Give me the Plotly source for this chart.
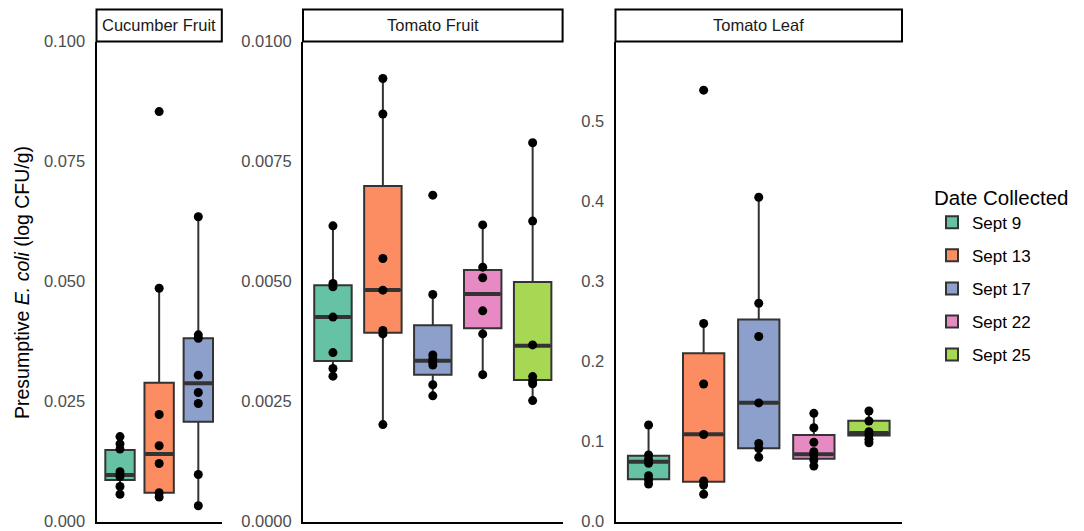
import plotly.graph_objects as go

# ---------------- data ----------------
DATES = ["Sept 9", "Sept 13", "Sept 17", "Sept 22", "Sept 25"]
COLORS = ["#66C2A5", "#FC8D62", "#8DA0CB", "#E78AC3", "#A6D854"]
PANELS = ["Cucumber Fruit", "Tomato Fruit", "Tomato Leaf"]

# Cucumber Fruit (only three collection dates)
cuc_sep9 = [0.0177, 0.0162, 0.0151, 0.0104, 0.0099, 0.0094, 0.0073, 0.0057]
cuc_sep13 = [0.0854, 0.0486, 0.0223, 0.0158, 0.0121, 0.0060, 0.0051]
cuc_sep17 = [0.0635, 0.0389, 0.0382, 0.0305, 0.0269, 0.0246, 0.0098, 0.0033]
cuc_q1 = [0.00866, 0.00602, 0.02081]
cuc_med = [0.0097, 0.01408, 0.02881]
cuc_q3 = [0.01491, 0.02893, 0.03818]

# Tomato Fruit
tf_sep9 = [0.00616, 0.00496, 0.00489, 0.00426, 0.00352, 0.00319, 0.00303]
tf_sep13 = [0.00923, 0.00849, 0.00548, 0.00482, 0.00398, 0.00391, 0.00202]
tf_sep17 = [0.00680, 0.00473, 0.00347, 0.00339, 0.00332, 0.00326, 0.00285, 0.00262]
tf_sep22 = [0.00618, 0.00530, 0.00508, 0.00439, 0.00391, 0.00306]
tf_sep25 = [0.00789, 0.00626, 0.00368, 0.00302, 0.00293, 0.00287, 0.00252]
tf_q1 = [0.003345, 0.003935, 0.00306, 0.004026, 0.002949]
tf_med = [0.004262, 0.004824, 0.003352, 0.00474, 0.003664]
tf_q3 = [0.004922, 0.00699, 0.004089, 0.005241, 0.004991]

# Tomato Leaf
tl_sep9 = [0.1206, 0.0831, 0.0775, 0.0728, 0.0573, 0.0519, 0.0469]
tl_sep13 = [0.5387, 0.2473, 0.1718, 0.1087, 0.0507, 0.0457, 0.0341]
tl_sep17 = [0.4050, 0.2727, 0.2312, 0.1482, 0.0975, 0.0913, 0.0803]
tl_sep22 = [0.1352, 0.1172, 0.0990, 0.0873, 0.0831, 0.0769, 0.0694]
tl_sep25 = [0.1381, 0.1256, 0.1122, 0.1081, 0.1027, 0.0985]
tl_q1 = [0.0528, 0.0498, 0.0915, 0.0785, 0.1074]
tl_med = [0.0748, 0.1090, 0.1484, 0.0840, 0.1105]
tl_q3 = [0.0823, 0.2101, 0.2524, 0.1081, 0.1260]

# y axis ticks / limits per panel
cuc_ticks = [0.0, 0.025, 0.05, 0.075, 0.1]
tf_ticks = [0.0, 0.0025, 0.005, 0.0075, 0.01]
tl_ticks = [0.0, 0.1, 0.2, 0.3, 0.4, 0.5]
y_limits = [(0, 0.1), (0, 0.01), (0, 0.5995)]
tick_formats = [".3f", ".4f", ".1f"]

panel_points = [
    [cuc_sep9, cuc_sep13, cuc_sep17],
    [tf_sep9, tf_sep13, tf_sep17, tf_sep22, tf_sep25],
    [tl_sep9, tl_sep13, tl_sep17, tl_sep22, tl_sep25],
]
panel_q1 = [cuc_q1, tf_q1, tl_q1]
panel_med = [cuc_med, tf_med, tl_med]
panel_q3 = [cuc_q3, tf_q3, tl_q3]
panel_ticks = [cuc_ticks, tf_ticks, tl_ticks]

# ---------------- layout geometry (pixels of a 1084x531 canvas) ----------------
W, H = 1084, 531
x_dom_px = [(96.5, 221.8), (303.0, 562.6), (615.5, 902.0)]
y_top_px, y_bot_px = 41.5, 521.6
strip_top_px = 9.5
FONT = "Liberation Sans, Arial, Helvetica, sans-serif"
EDGE = "#333333"
BOX_W = 0.75

fig = go.Figure()
shapes, annotations = [], []

for p, name in enumerate(PANELS):
    sfx = "" if p == 0 else str(p + 1)
    xa, ya = "x" + sfx, "y" + sfx
    pts_list = panel_points[p]
    for j, pts in enumerate(pts_list):
        date, color = DATES[j], COLORS[j]
        q1, med, q3 = panel_q1[p][j], panel_med[p][j], panel_q3[p][j]
        iqr = q3 - q1
        inside = [v for v in pts if q1 - 1.5 * iqr <= v <= q3 + 1.5 * iqr]
        lo, hi = min(inside), max(inside)
        fig.add_trace(go.Box(
            x=[j], q1=[q1], median=[med], q3=[q3], lowerfence=[lo], upperfence=[hi],
            width=BOX_W, fillcolor=color, line=dict(color=EDGE, width=2),
            whiskerwidth=0, boxpoints=False, name=date, legendgroup=date,
            showlegend=(p == 1), xaxis=xa, yaxis=ya, hoverinfo="skip",
        ))
        # thicker median bar, as in ggplot
        fig.add_trace(go.Scatter(
            x=[j - BOX_W / 2 + 0.02, j + BOX_W / 2 - 0.02], y=[med, med], mode="lines",
            line=dict(color=EDGE, width=4), showlegend=False, legendgroup=date,
            xaxis=xa, yaxis=ya, hoverinfo="skip",
        ))
        fig.add_trace(go.Scatter(
            x=[j] * len(pts), y=pts, mode="markers",
            marker=dict(color="black", size=9), showlegend=False, legendgroup=date,
            xaxis=xa, yaxis=ya, hoverinfo="skip",
        ))

    n = len(pts_list)
    x0, x1 = x_dom_px[p]
    dom_x = [x0 / W, x1 / W]
    dom_y = [(H - y_bot_px) / H, (H - y_top_px) / H]
    fig.update_layout(**{
        "xaxis" + sfx: dict(
            domain=dom_x, range=[-0.6, n - 1 + 0.6], showticklabels=False, ticks="",
            showgrid=False, zeroline=False, showline=True, linecolor="black",
            linewidth=2, anchor=ya, fixedrange=True, automargin=False,
        ),
        "yaxis" + sfx: dict(
            domain=dom_y, range=list(y_limits[p]), tickvals=panel_ticks[p],
            tickformat=tick_formats[p], ticks="", showgrid=False, zeroline=False,
            showline=True, linecolor="black", linewidth=2, anchor=xa,
            tickfont=dict(family=FONT, size=16.5, color="#4D4D4D"), ticklabelstandoff=6,
            fixedrange=True, automargin=False,
        ),
    })
    # facet strip
    shapes.append(dict(
        type="rect", xref="paper", yref="paper", x0=dom_x[0], x1=dom_x[1],
        y0=dom_y[1], y1=(H - strip_top_px) / H, fillcolor="white",
        line=dict(color="black", width=2), layer="above",
    ))
    annotations.append(dict(
        text=name, xref="paper", yref="paper", x=(dom_x[0] + dom_x[1]) / 2,
        y=(dom_y[1] + (H - strip_top_px) / H) / 2, showarrow=False,
        xanchor="center", yanchor="middle",
        font=dict(family=FONT, size=16.5, color="#1A1A1A"),
    ))

annotations.append(dict(
    text="Presumptive <i>E. coli</i> (log CFU/g)", xref="paper", yref="paper",
    x=22 / W, y=(H - 283) / H, textangle=-90, showarrow=False,
    xanchor="center", yanchor="middle", font=dict(family=FONT, size=19.5, color="black"),
))

fig.update_layout(
    width=W, height=H, margin=dict(l=0, r=0, t=0, b=0, autoexpand=False),
    paper_bgcolor="white", plot_bgcolor="white",
    boxmode="overlay", shapes=shapes, annotations=annotations,
    font=dict(family=FONT),
    legend=dict(
        title=dict(text="Date Collected", font=dict(family=FONT, size=20.5, color="black")),
        x=932 / W, xanchor="left", y=(H - 178) / H, yanchor="top",
        font=dict(family=FONT, size=17, color="black"),
        tracegroupgap=8, bgcolor="rgba(0,0,0,0)", traceorder="grouped",
    ),
)

fig.write_html("out.html")
